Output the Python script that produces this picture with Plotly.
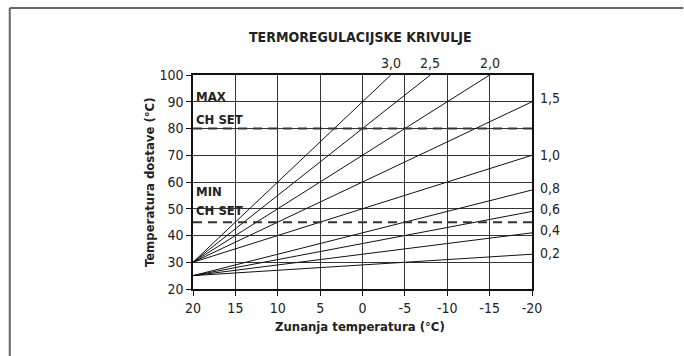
import plotly.graph_objects as go

# Heating curves: supply temperature vs. outdoor temperature
outdoor = [20, -20]
upper_slopes = [3.0, 2.5, 2.0, 1.5, 1.0]   # curves starting at 30 °C
lower_slopes = [0.8, 0.6, 0.4, 0.2]        # curves starting at 25 °C
upper_base = 30
lower_base = 25
t_max = 100
max_ch_set = 80
min_ch_set = 45

x_ticks = [20, 15, 10, 5, 0, -5, -10, -15, -20]
y_ticks = [20, 30, 40, 50, 60, 70, 80, 90, 100]

top_labels = ["3,0", "2,5", "2,0"]
side_labels = ["1,5", "1,0", "0,8", "0,6", "0,4", "0,2"]

FONT = "Liberation Sans Narrow, DejaVu Sans Condensed, Arial Narrow, sans-serif"
INK = "#222"

# plot area in pixels
L, R, T, B = 193, 532.5, 75, 289
PW, PH = R - L, B - T


def px_x(px):
    return (px - L) / PW


def px_y(py):
    return (B - py) / PH


def curve(base, k):
    x_end = outdoor[1]
    if base + k * (outdoor[0] - x_end) > t_max:
        x_end = outdoor[0] - (t_max - base) / k
    xs = [outdoor[0], x_end]
    ys = [base + k * (outdoor[0] - x) for x in xs]
    return xs, ys


fig = go.Figure()
for base, slopes in ((upper_base, upper_slopes), (lower_base, lower_slopes)):
    for k in slopes:
        xs, ys = curve(base, k)
        fig.add_trace(go.Scatter(x=xs, y=ys, mode="lines",
                                 line=dict(color="#111", width=1), hoverinfo="skip"))

for level in (max_ch_set, min_ch_set):
    fig.add_trace(go.Scatter(x=outdoor, y=[level, level], mode="lines",
                             line=dict(color="#333", width=2, dash="9px,6px"),
                             hoverinfo="skip"))

# labels of the steep curves, above the plot at their 100 °C crossing
for k, lab in zip(upper_slopes[:3], top_labels):
    x_hit = outdoor[0] - (t_max - upper_base) / k
    fig.add_annotation(x=x_hit, xref="x", y=px_y(63), yref="paper", text=lab,
                       xanchor="center", yanchor="middle", showarrow=False,
                       font=dict(size=14, color=INK, family=FONT))

# labels of the flatter curves, at their right-hand end
side_vals = [upper_base + k * 40 for k in upper_slopes[3:]] + \
            [lower_base + k * 40 for k in lower_slopes]
side_offsets = [1.5, 0.2, 0.8, 0.9, 1.0, 0.5]
for v, lab, off in zip(side_vals, side_labels, side_offsets):
    fig.add_annotation(x=1.0, xref="paper", y=v + off, yref="y", text=lab,
                       xanchor="left", yanchor="middle", xshift=6, showarrow=False,
                       font=dict(size=14, color=INK, family=FONT))

for txt, yv in (("MAX", 91.8), ("CH SET", 83.2), ("MIN", 56.3), ("CH SET", 49.5)):
    fig.add_annotation(x=0, xref="paper", y=yv, yref="y", text="<b>" + txt + "</b>",
                       xanchor="left", yanchor="middle", xshift=1, showarrow=False,
                       font=dict(size=13, color=INK, family=FONT))

fig.add_annotation(x=px_x(361), xref="paper", y=px_y(37), yref="paper",
                   text="<b>TERMOREGULACIJSKE KRIVULJE</b>",
                   xanchor="center", yanchor="middle", showarrow=False,
                   font=dict(size=14, color=INK, family=FONT))
fig.add_annotation(x=px_x(360), xref="paper", y=px_y(326), yref="paper",
                   text="<b>Zunanja temperatura (°C)</b>",
                   xanchor="center", yanchor="middle", showarrow=False,
                   font=dict(size=13, color=INK, family=FONT))
fig.add_annotation(x=px_x(149), xref="paper", y=px_y(182), yref="paper",
                   text="<b>Temperatura dostave (°C)</b>", textangle=-90,
                   xanchor="center", yanchor="middle", showarrow=False,
                   font=dict(size=13, color=INK, family=FONT))

# frame lines along the top and left edge of the page
fig.add_shape(type="line", xref="paper", yref="paper",
              x0=px_x(9.5), x1=px_x(684), y0=px_y(8), y1=px_y(8),
              line=dict(color="#666", width=2))
fig.add_shape(type="line", xref="paper", yref="paper",
              x0=px_x(9.5), x1=px_x(9.5), y0=px_y(8), y1=px_y(360),
              line=dict(color="#666", width=2))

axis_style = dict(showgrid=True, gridcolor="#333", gridwidth=1, zeroline=False,
                  showline=True, linecolor="#111", linewidth=1.5, mirror=True,
                  ticks="outside", ticklen=5, tickcolor="#111",
                  tickfont=dict(size=14, color=INK, family=FONT))
fig.update_xaxes(range=[20, -20], tickvals=x_ticks, ticktext=[str(v) for v in x_ticks],
                 **axis_style)
fig.update_yaxes(range=[20, 100], tickvals=y_ticks, **axis_style)

fig.update_layout(width=684, height=356, showlegend=False,
                  margin=dict(l=L, r=684 - R, t=T, b=356 - B, pad=0),
                  paper_bgcolor="white", plot_bgcolor="white")

fig.write_html("out.html")
